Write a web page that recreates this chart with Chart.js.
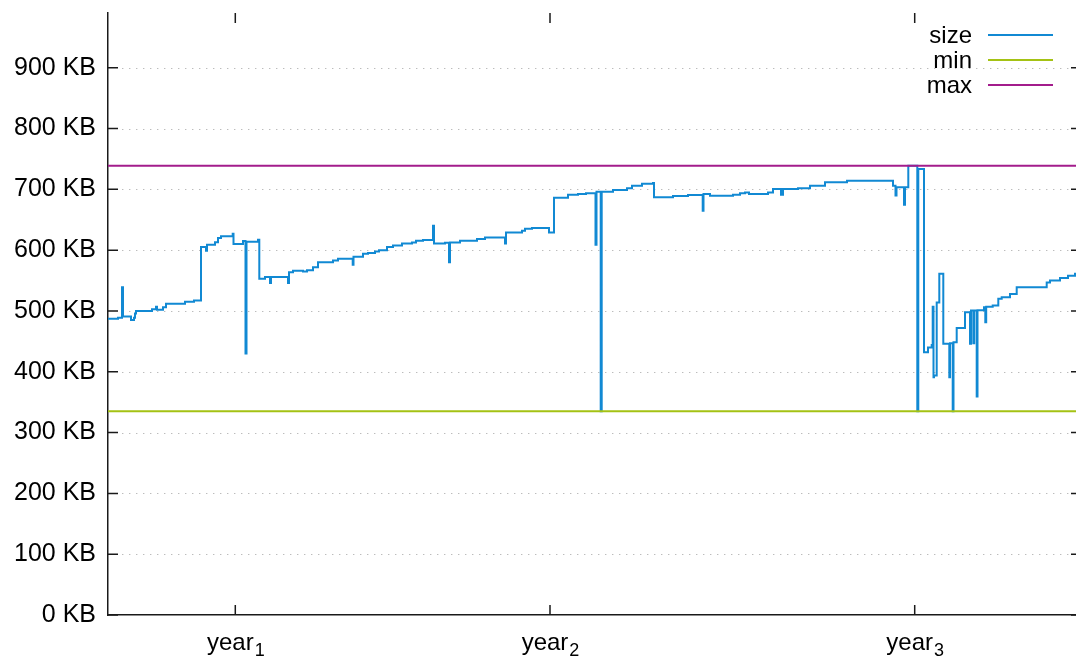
<!DOCTYPE html>
<html>
<head>
<meta charset="utf-8">
<script src="https://cdn.jsdelivr.net/npm/chart.js@4.4.1/dist/chart.umd.min.js"></script>
<style>
  html, body { margin: 0; padding: 0; background: #fff; overflow: hidden; }
  #wrap { width: 1090px; height: 656px; }
</style>
</head>
<body>
<div id="wrap"><canvas id="c" width="1090" height="656"></canvas></div>
<script>
// File size over time (day offsets from the first sample, size in KB).
const sizeDay = [
  0, 10, 14, 15, 23, 26, 27, 28, 44, 48, 49, 55, 58, 77, 86, 93, 98, 99, 107, 110,
  113, 124.7, 125.5, 135, 137.5, 138.5, 150, 151.3, 157, 162, 163, 180, 181, 185, 195, 199,
  205, 210, 225, 230, 244.7, 245.5, 255, 260, 267, 271, 279, 285, 294, 304, 308, 315,
  325, 326, 337, 341, 342, 352, 369, 377, 397, 398, 414, 417, 424, 441, 446, 460,
  470, 478, 487.5, 488.5, 492.7, 493.7, 505, 519, 524, 534, 545, 546, 565, 580,
  594.7, 595.5, 602, 625, 632, 637, 641, 660, 665, 673, 675, 690, 702, 717, 739,
  785, 787.5, 788.5, 796, 797, 800.3, 809.3, 810.3, 816, 820, 823.7, 824.7, 825.5,
  826, 828.7, 831.3, 835.3, 841.3, 842, 844.7, 845.5, 848.7, 857, 862, 863, 865.3,
  866.2, 868.7, 869.5, 876, 877.3, 878.2, 884.7, 890.3, 893.7, 902, 908.7, 938.7,
  942, 952, 960, 967, 973
];
const sizeKB = [
  487, 489, 539, 491, 485, 489, 496, 500, 503, 507, 502, 506, 512, 515, 517, 605, 599, 609, 613, 620,
  623, 627, 610, 615, 430, 614, 617, 553, 556, 546, 556, 546, 563.6, 566, 565, 567,
  572, 580, 583, 586, 576, 589, 594, 595.5, 597.6, 600, 605, 607.5, 611, 612.5, 615.5, 616.5,
  640, 611, 612, 580, 612.5, 615.5, 618.5, 621, 611, 629, 632, 635, 636.5, 629, 686, 691,
  692.5, 693.5, 609, 696, 335, 696, 699, 701.6, 706, 709, 710.5, 687, 689, 690.5,
  665, 692.4, 689.5, 691, 693.4, 695, 692.4, 695, 700.6, 691, 700.6, 702, 706, 711.5, 714,
  706, 690, 703.6, 674.5, 703.6, 739, 335, 733.5, 432, 440, 444, 507, 391,
  394, 514, 561, 446, 391, 447, 335, 448.6, 472, 498, 446, 500.6, 447,
  500.6, 359.4, 501, 506, 481.4, 507, 509, 520, 522.5, 528, 539, 547,
  550, 554, 558, 561, 561
];

const xTickDays  = [127.3, 442, 806.7];
const xTickNames = ['year', 'year', 'year'];
const xTickSubs  = ['1', '2', '3'];
const yTickKB    = [0, 100, 200, 300, 400, 500, 600, 700, 800, 900];

const seriesNames  = ['size', 'min', 'max'];
const seriesColors = ['#1189d3', '#a4c214', '#a31c8c'];

const dayEnd = 973;
const kbTop = 990;

const minKB = Math.min(...sizeKB);
const maxKB = Math.max(...sizeKB);

const FONT = '"Liberation Sans", Arial, Helvetica, sans-serif';

// Gnuplot-style frame: dotted grid, inward tics, subscripted x labels, key in the corner.
const frame = {
  id: 'frame',
  beforeDatasetsDraw(chart) {
    const { ctx, chartArea: a, scales: { y } } = chart;
    ctx.save();
    ctx.strokeStyle = '#bcbcbc';
    ctx.lineWidth = 1;
    ctx.setLineDash([1.4, 5.6]);
    y.ticks.forEach(t => {
      if (t.value === 0) return;
      const py = Math.round(y.getPixelForValue(t.value)) + 0.5;
      ctx.beginPath();
      ctx.moveTo(a.left + 14, py);
      ctx.lineTo(a.right - 12, py);
      ctx.stroke();
    });
    ctx.restore();
  },
  afterDraw(chart) {
    const { ctx, chartArea: a, scales: { x, y } } = chart;
    const len = 10;
    ctx.save();
    ctx.strokeStyle = '#1a1a1a';
    ctx.lineWidth = 1.5;
    y.ticks.forEach(t => {
      const py = y.getPixelForValue(t.value);
      ctx.beginPath();
      ctx.moveTo(a.left, py); ctx.lineTo(a.left + len, py);
      ctx.moveTo(a.right, py); ctx.lineTo(a.right - len, py);
      ctx.stroke();
    });
    x.ticks.forEach(t => {
      const px = x.getPixelForValue(t.value);
      ctx.beginPath();
      ctx.moveTo(px, a.bottom); ctx.lineTo(px, a.bottom - len);
      ctx.moveTo(px, a.top); ctx.lineTo(px, a.top + len);
      ctx.stroke();
    });

    // x tick labels with subscripts
    ctx.fillStyle = '#000';
    ctx.textBaseline = 'alphabetic';
    ctx.textAlign = 'left';
    x.ticks.forEach((t, i) => {
      const px = x.getPixelForValue(t.value);
      ctx.font = '24px ' + FONT;
      const w1 = ctx.measureText(xTickNames[i]).width;
      ctx.font = '18px ' + FONT;
      const w2 = ctx.measureText(xTickSubs[i]).width;
      const x0 = px - (w1 + w2) / 2;
      ctx.font = '24px ' + FONT;
      ctx.fillText(xTickNames[i], x0, a.bottom + 34.5);
      ctx.font = '18px ' + FONT;
      ctx.fillText(xTickSubs[i], x0 + w1 + 1, a.bottom + 40.5);
    });

    // key
    ctx.font = '24px ' + FONT;
    ctx.textAlign = 'right';
    ctx.textBaseline = 'middle';
    ctx.lineWidth = 2;
    chart.data.datasets.forEach((ds, i) => {
      const ly = a.top + 22 + i * 25;
      ctx.fillStyle = '#000';
      ctx.fillText(ds.label, 972, ly + 1);
      ctx.strokeStyle = ds.borderColor;
      ctx.beginPath();
      ctx.moveTo(988, ly); ctx.lineTo(1053, ly);
      ctx.stroke();
    });
    ctx.restore();
  }
};

const sizePoints = sizeDay.map((d, i) => ({ x: d, y: sizeKB[i] }));

new Chart(document.getElementById('c'), {
  type: 'line',
  data: {
    datasets: [
      { label: seriesNames[0], data: sizePoints, borderColor: seriesColors[0], borderWidth: 2,
        pointRadius: 0, stepped: true, order: 3 },
      { label: seriesNames[1], data: [{ x: 0, y: minKB }, { x: dayEnd, y: minKB }],
        borderColor: seriesColors[1], borderWidth: 2, pointRadius: 0, order: 2 },
      { label: seriesNames[2], data: [{ x: 0, y: maxKB }, { x: dayEnd, y: maxKB }],
        borderColor: seriesColors[2], borderWidth: 2, pointRadius: 0, order: 1 }
    ]
  },
  options: {
    responsive: false,
    animation: false,
    devicePixelRatio: 1,
    layout: { padding: { top: 13, right: 9, left: 0, bottom: 0 } },
    plugins: { legend: { display: false }, tooltip: { enabled: false } },
    scales: {
      x: {
        type: 'linear', min: 0, max: dayEnd,
        grid: { display: false, drawTicks: false },
        border: { display: true, color: '#1a1a1a', width: 1.5 },
        ticks: { display: false },
        afterBuildTicks: s => { s.ticks = xTickDays.map(v => ({ value: v })); },
        afterFit: s => { s.height = 41; s.paddingLeft = 0; s.paddingRight = 0; }
      },
      y: {
        type: 'linear', min: 0, max: kbTop,
        grid: { display: false, drawTicks: false },
        border: { display: true, color: '#1a1a1a', width: 1.5 },
        ticks: {
          padding: 12, color: '#000',
          font: { family: FONT, size: 25 },
          callback: v => v + ' KB'
        },
        afterBuildTicks: s => { s.ticks = yTickKB.map(v => ({ value: v })); },
        afterFit: s => { s.width = 108; s.paddingTop = 0; s.paddingBottom = 0; }
      }
    }
  },
  plugins: [frame]
});
</script>
</body>
</html>
